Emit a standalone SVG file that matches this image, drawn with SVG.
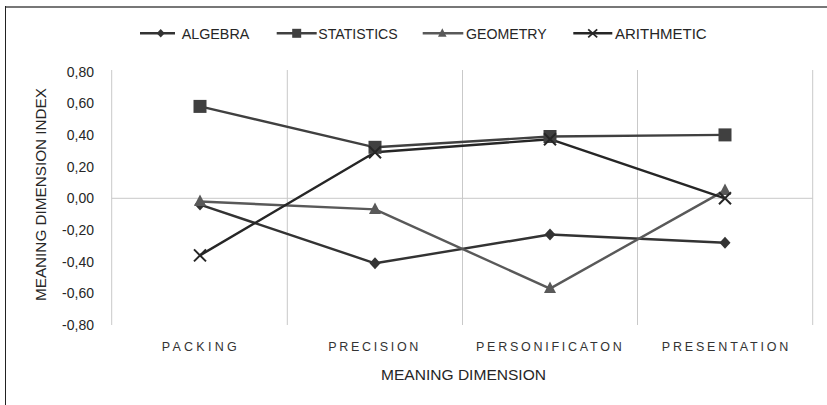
<svg xmlns="http://www.w3.org/2000/svg" width="827" height="405" viewBox="0 0 827 405">
<style>
text{font-family:"Liberation Sans Narrow","Liberation Sans",Arial,sans-serif;fill:#262626}
.leg{font-size:15.5px}
.yl{font-size:14px;text-anchor:end}
.xl{font-size:12.5px;fill:#333333}
.ttl{font-size:15.5px}
.grid{stroke:#c9c9c9;stroke-width:1;fill:none}
.ln{fill:none;stroke-width:2.4;stroke-linejoin:round}
.alg{stroke:#333333}
.sta{stroke:#404040}
.geo{stroke:#595959}
.ari{stroke:#262626}
</style>
<defs>
<path id="dia" d="M0,-6 L5.5,0 L0,6 L-5.5,0 Z" fill="#333333"/>
<rect id="sq" x="-6.5" y="-6.5" width="13" height="13" fill="#404040"/>
<path id="tri" d="M0,-7 L6,4.5 L-6,4.5 Z" fill="#595959"/>
<path id="xx" d="M-6,-6 L6,6 M-6,6 L6,-6" stroke="#262626" stroke-width="2" fill="none"/>
<path id="dia-s" d="M0,-4.3 L4,0 L0,4.3 L-4,0 Z" fill="#333333"/>
<rect id="sq-s" x="-4.5" y="-4.5" width="9" height="9" fill="#404040"/>
<path id="tri-s" d="M0,-5 L4.3,3.5 L-4.3,3.5 Z" fill="#595959"/>
<path id="xx-s" d="M-4.5,-4 L4.5,4 M-4.5,4 L4.5,-4" stroke="#262626" stroke-width="1.8" fill="none"/>
</defs>
<rect width="827" height="405" fill="#ffffff"/>
<g id="frame">
<line x1="5" y1="7" x2="827" y2="7" stroke="#777777" stroke-width="2"/>
<line x1="5.5" y1="6" x2="5.5" y2="405" stroke="#222222" stroke-width="1"/>
</g>
<g id="grid">
<line class="grid" x1="111.7" y1="70" x2="111.7" y2="325"/>
<line class="grid" x1="287.3" y1="70" x2="287.3" y2="325"/>
<line class="grid" x1="462.5" y1="70" x2="462.5" y2="325"/>
<line class="grid" x1="637.5" y1="70" x2="637.5" y2="325"/>
<line class="grid" x1="812.7" y1="70" x2="812.7" y2="325"/>
<line class="grid" x1="111.7" y1="198.3" x2="812.7" y2="198.3"/>
</g>
<g id="y-labels">
<text class="yl" x="94" y="76.5">0,80</text>
<text class="yl" x="94" y="108.2">0,60</text>
<text class="yl" x="94" y="139.9">0,40</text>
<text class="yl" x="94" y="171.6">0,20</text>
<text class="yl" x="94" y="203.3">0,00</text>
<text class="yl" x="94" y="235">-0,20</text>
<text class="yl" x="94" y="266.7">-0,40</text>
<text class="yl" x="94" y="298.4">-0,60</text>
<text class="yl" x="94" y="330.1">-0,80</text>
</g>
<g id="x-labels">
<text class="xl" x="161.7" y="351" textLength="75" lengthAdjust="spacing">PACKING</text>
<text class="xl" x="328.3" y="351" textLength="90" lengthAdjust="spacing">PRECISION</text>
<text class="xl" x="476" y="351" textLength="145.7" lengthAdjust="spacing">PERSONIFICATON</text>
<text class="xl" x="661.7" y="351" textLength="126.7" lengthAdjust="spacing">PRESENTATION</text>
</g>
<g id="axis-titles">
<text class="ttl" x="381" y="380" textLength="165" lengthAdjust="spacingAndGlyphs">MEANING DIMENSION</text>
<text class="ttl" transform="translate(46,301) rotate(-90)" x="0" y="0" textLength="213" lengthAdjust="spacingAndGlyphs">MEANING DIMENSION INDEX</text>
</g>
<g id="connectors">
<polyline id="s-algebra" class="ln alg" points="200,204.6 375,263.3 550,234.5 725,242.7"/>
<polyline id="s-statistics" class="ln sta" points="200,106.4 375,147.3 550,136.5 725,134.9"/>
<polyline id="s-geometry" class="ln geo" points="200,201.5 375,209.4 550,288.6 725,190.4"/>
<polyline id="s-arithmetic" class="ln ari" points="200,255.4 375,152.3 550,139.2 725,198.3"/>
</g>
<g id="algebra">
<use href="#dia" x="200" y="204.6"/><use href="#dia" x="375" y="263.3"/><use href="#dia" x="550" y="234.5"/><use href="#dia" x="725" y="242.7"/>
</g>
<g id="statistics">
<use href="#sq" x="200" y="106.4"/><use href="#sq" x="375" y="147.3"/><use href="#sq" x="550" y="136.5"/><use href="#sq" x="725" y="134.9"/>
</g>
<g id="geometry">
<use href="#tri" x="200" y="201.5"/><use href="#tri" x="375" y="209.4"/><use href="#tri" x="550" y="288.6"/><use href="#tri" x="725" y="190.4"/>
</g>
<g id="arithmetic">
<use href="#xx" x="200" y="255.4"/><use href="#xx" x="375" y="152.3"/><use href="#xx" x="550" y="139.2"/><use href="#xx" x="725" y="198.3"/>
</g>
<g id="legend">
<line class="ln alg" x1="140" y1="33.3" x2="175" y2="33.3"/><use href="#dia-s" x="160.7" y="33.3"/>
<text class="leg" x="181.7" y="38.5" textLength="67.6" lengthAdjust="spacingAndGlyphs">ALGEBRA</text>
<line class="ln sta" x1="276.7" y1="33.3" x2="316.7" y2="33.3"/><use href="#sq-s" x="296.7" y="33.3"/>
<text class="leg" x="318.3" y="38.5" textLength="79.4" lengthAdjust="spacingAndGlyphs">STATISTICS</text>
<line class="ln geo" x1="422.7" y1="33.3" x2="463.3" y2="33.3"/><use href="#tri-s" x="442.3" y="33.3"/>
<text class="leg" x="466" y="38.5" textLength="80.7" lengthAdjust="spacingAndGlyphs">GEOMETRY</text>
<line class="ln ari" x1="573.3" y1="33.3" x2="612.3" y2="33.3"/><use href="#xx-s" x="592.7" y="33.3"/>
<text class="leg" x="615" y="38.5" textLength="91.7" lengthAdjust="spacingAndGlyphs">ARITHMETIC</text>
</g>
</svg>
